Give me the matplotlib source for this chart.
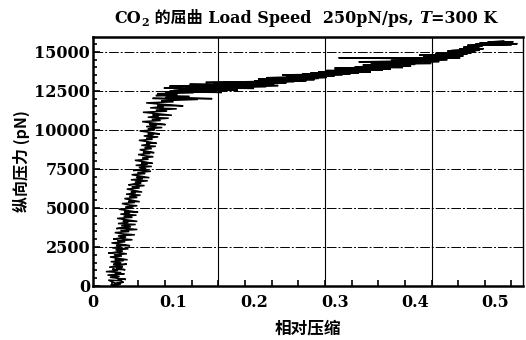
import numpy as np
import matplotlib
matplotlib.use("Agg")
import matplotlib.pyplot as plt

plt.rcParams['font.family'] = ['DejaVu Serif', 'Noto Sans CJK SC']

# ---- data: longitudinal force (pN) vs relative compression, in drawing order ----
# lower, steep part of the trace
lower_force = [0, 120, 60, 250, 180, 380, 330, 480, 420, 560, 620, 700, 780, 740, 860, 920,
               1000, 1080, 1040, 1160, 1240, 1200, 1330, 1400, 1380, 1480, 1560, 1620, 1700,
               1680, 1790, 1860, 1920, 2000, 2060, 2140, 2100, 2230, 2310, 2380, 2440, 2520,
               2600, 2580, 2690, 2760, 2830, 2900, 2960, 3040, 3000, 3130, 3210, 3280, 3340,
               3420, 3490, 3560, 3620, 3700, 3680, 3790, 3860, 3940, 4000, 4080, 4160, 4140,
               4250, 4330, 4400, 4470, 4540, 4600, 4680, 4750, 4730, 4840, 4920, 4990, 5060,
               5140, 5200, 5280, 5350, 5420, 5400, 5520, 5600, 5670, 5740, 5820, 5880, 5960,
               6040, 6020, 6130, 6210, 6280, 6350, 6430, 6500, 6480, 6590, 6660, 6740, 6800,
               6880, 6960, 6940, 7050, 7130, 7200, 7270, 7350, 7420, 7400, 7510, 7590, 7660,
               7730, 7810, 7880, 7860, 7970, 8050, 8120, 8200, 8280, 8340, 8420, 8490, 8560,
               8540, 8650, 8730, 8800, 8870, 8950, 9010, 9090, 9160, 9140, 9250, 9330, 9400,
               9470, 9550, 9610, 9690, 9760, 9740, 9850, 9930, 10000, 10070, 10150, 10210,
               10290, 10360, 10340, 10450, 10530, 10600, 10670, 10750, 10810, 10890, 10960,
               10940, 11050, 11130, 11200, 11270, 11350, 11410, 11490, 11560, 11540, 11650,
               11730, 11800, 11870, 11950, 12020, 12000, 12080]
lower_compression = [0.026, 0.034, 0.022, 0.038, 0.028, 0.019, 0.036, 0.030, 0.041, 0.021,
                     0.033, 0.018, 0.039, 0.027, 0.035, 0.016, 0.031, 0.024, 0.040, 0.029,
                     0.037, 0.020, 0.033, 0.042, 0.025, 0.035, 0.022, 0.038, 0.027, 0.043,
                     0.030, 0.021, 0.036, 0.026, 0.042, 0.031, 0.019, 0.037, 0.028, 0.044,
                     0.024, 0.035, 0.029, 0.046, 0.033, 0.023, 0.040, 0.030, 0.049, 0.034,
                     0.025, 0.041, 0.031, 0.052, 0.036, 0.027, 0.045, 0.034, 0.055, 0.038,
                     0.029, 0.047, 0.035, 0.053, 0.031, 0.044, 0.037, 0.055, 0.040, 0.030,
                     0.049, 0.038, 0.054, 0.034, 0.046, 0.039, 0.056, 0.041, 0.032, 0.050,
                     0.040, 0.055, 0.043, 0.036, 0.052, 0.044, 0.058, 0.046, 0.039, 0.055,
                     0.045, 0.059, 0.041, 0.053, 0.047, 0.061, 0.050, 0.042, 0.058, 0.048,
                     0.064, 0.051, 0.044, 0.060, 0.052, 0.068, 0.047, 0.062, 0.054, 0.070,
                     0.057, 0.048, 0.065, 0.055, 0.072, 0.058, 0.050, 0.066, 0.057, 0.073,
                     0.053, 0.068, 0.060, 0.074, 0.062, 0.052, 0.069, 0.061, 0.075, 0.064,
                     0.056, 0.071, 0.062, 0.076, 0.065, 0.058, 0.073, 0.064, 0.078, 0.060,
                     0.071, 0.066, 0.079, 0.067, 0.057, 0.074, 0.066, 0.081, 0.063, 0.075,
                     0.068, 0.083, 0.070, 0.058, 0.077, 0.068, 0.086, 0.066, 0.079, 0.070,
                     0.090, 0.072, 0.061, 0.084, 0.073, 0.094, 0.068, 0.082, 0.074, 0.098,
                     0.077, 0.062, 0.092, 0.078, 0.104, 0.071, 0.088, 0.080, 0.112, 0.083,
                     0.066, 0.100, 0.085, 0.130, 0.074, 0.148, 0.090]
# upper, flat band of the trace
upper_force = [12150, 12200, 12260, 12320, 12380, 12440, 12400, 12500, 12560, 12520, 12620,
               12680, 12660, 12720, 12780, 12740, 12840, 12800, 12880, 12920, 12900, 12960,
               13000, 12980, 13060, 13040, 13100, 13080, 13150, 13130, 13200, 13220, 13260,
               13300, 13280, 13360, 13340, 13420, 13400, 13460, 13500, 13540, 13520, 13600,
               13580, 13650, 13640, 13700, 13720, 13760, 13800, 13840, 13820, 13900, 13880,
               13950, 13960, 14000, 14040, 14080, 14060, 14130, 14150, 14200, 14220, 14260,
               14250, 14320, 14300, 14380, 14360, 14420, 14450, 14500, 14480, 14560, 14620,
               14620, 14600, 14680, 14660, 14740, 14720, 14800, 14780, 14860, 14880, 14940,
               14920, 15000, 15040, 15100, 15080, 15160, 15200, 15180, 15260, 15300, 15360,
               15420, 15460, 15440, 15520, 15500, 15580, 15560, 15640, 15620, 15700]
upper_compression = [0.120, 0.078, 0.105, 0.080, 0.125, 0.090, 0.160, 0.095, 0.180, 0.100,
                     0.140, 0.088, 0.200, 0.115, 0.215, 0.130, 0.230, 0.095, 0.175, 0.120,
                     0.225, 0.150, 0.240, 0.165, 0.215, 0.140, 0.250, 0.185, 0.265, 0.200,
                     0.235, 0.275, 0.205, 0.280, 0.225, 0.290, 0.215, 0.275, 0.240, 0.300,
                     0.250, 0.310, 0.235, 0.320, 0.260, 0.330, 0.270, 0.345, 0.280, 0.330,
                     0.290, 0.360, 0.300, 0.370, 0.310, 0.350, 0.300, 0.385, 0.325, 0.395,
                     0.340, 0.380, 0.335, 0.400, 0.350, 0.420, 0.345, 0.405, 0.360, 0.430,
                     0.330, 0.410, 0.370, 0.440, 0.385, 0.400, 0.305, 0.456, 0.395, 0.445,
                     0.410, 0.460, 0.420, 0.450, 0.405, 0.465, 0.425, 0.470, 0.435, 0.475,
                     0.440, 0.480, 0.445, 0.470, 0.485, 0.455, 0.480, 0.460, 0.484, 0.465,
                     0.520, 0.470, 0.527, 0.475, 0.515, 0.480, 0.522, 0.490, 0.510]

x_tick_labels = ['0', '0.1', '0.2', '0.3', '0.4', '0.5']
x_tick_values = [0, 0.1, 0.2, 0.3, 0.4, 0.5]
y_tick_values = [0, 2500, 5000, 7500, 10000, 12500, 15000]

W, H = 526, 340
fig = plt.figure(figsize=(W / 100, H / 100), dpi=100)
ax = fig.add_axes([93 / W, 54 / H, 430 / W, 249 / H])

force = lower_force + upper_force
compression = lower_compression + upper_compression
ax.plot(compression, force, color='black', linewidth=1.1, solid_joinstyle='miter')

ax.set_xlim(0, 0.534)
ax.set_ylim(0, 15950)

# gridlines
for yv in y_tick_values[1:]:
    ax.axhline(yv, color='black', linewidth=0.7, linestyle=(0, (10, 2, 2, 2)), zorder=0)
minor_x = 0.0232 + 0.0331 * np.arange(16)
minor_x = minor_x[minor_x < 0.534]
for xv in minor_x[[4, 8, 12]]:
    ax.axvline(xv, color='black', linewidth=0.8, zorder=0)

ax.set_xticks(x_tick_values)
ax.set_xticklabels(x_tick_labels)
ax.set_xticks(minor_x, minor=True)
ax.set_yticks(y_tick_values)
ax.set_yticks(np.arange(0, 15950, 500), minor=True)

ax.tick_params(axis='x', which='major', length=0, pad=6, labelsize=11.5)
ax.tick_params(axis='x', which='minor', direction='in', length=4, width=1.2)
ax.tick_params(axis='y', which='major', direction='in', length=5, width=1.2, labelsize=11.5, pad=2)
ax.tick_params(axis='y', which='minor', direction='in', length=3, width=1.2)
for lab in ax.get_xticklabels() + ax.get_yticklabels():
    lab.set_fontweight('bold')

for s in ['left', 'bottom', 'top']:
    ax.spines[s].set_linewidth(1.8)
ax.spines['right'].set_linewidth(1.0)

ax.set_xlabel('相对压缩', fontsize=12, fontweight='bold',
              family=['Noto Sans CJK SC'], labelpad=6)
ax.set_ylabel('纵向压力 (pN)', fontsize=11.5, fontweight='bold',
              family=['Noto Sans CJK SC', 'DejaVu Serif'], labelpad=3)

# ---- title assembled from pieces (subscript, italic) ----
pieces = [('CO', 11.5, 'normal', 0),
          ('2', 8, 'normal', -3),
          (' 的屈曲 Load Speed  250pN/ps, ', 11.5, 'normal', 0),
          ('T', 11.5, 'italic', 0),
          ('=300 K', 11.5, 'normal', 0)]
renderer = fig.canvas.get_renderer()
texts = []
widths = []
for s, size, style, dy in pieces:
    t = fig.text(0, 0, s, fontsize=size, fontweight='bold', fontstyle=style,
                 family=['DejaVu Serif', 'Noto Sans CJK SC'], va='baseline', ha='left')
    texts.append((t, dy))
    widths.append(t.get_window_extent(renderer).width)
total = sum(widths)
x0 = 306 - total / 2
base = H - 23
for (t, dy), w in zip(texts, widths):
    t.set_position((x0 / W, (base + dy) / H))
    x0 += w

fig.savefig('out.png', dpi=100)
